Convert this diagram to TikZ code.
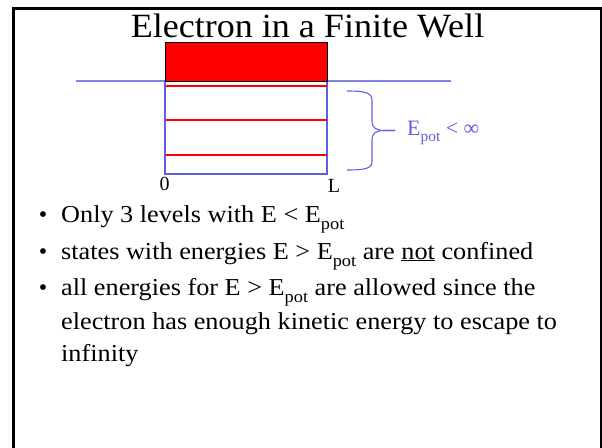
\documentclass[tikz,border=0pt]{standalone}
\usepackage{fontspec}
\setmainfont{Liberation Serif}
\newfontfamily\wideserif[FakeStretch=1.08]{Liberation Serif}
\newfontfamily\titleserif[FakeStretch=1.06]{Liberation Serif}
\definecolor{wellblue}{RGB}{95,95,225}
\definecolor{lineblue}{RGB}{130,130,235}
\newcommand\subpot{\raisebox{-0.3em}{\scalebox{0.7}{pot}}}
\tikzset{
  frameline/.style={draw=black, line cap=rect},
  wellline/.style={draw=wellblue, line width=1.1pt},
  level/.style={draw=red, line width=2pt},
  bodytext/.style={anchor=base west, inner sep=0pt, font=\wideserif\fontsize{24.3}{28}\selectfont},
  bulletmark/.style={anchor=base, inner sep=0pt, font=\fontsize{24}{28}\selectfont},
  axislabel/.style={anchor=base, inner sep=0pt, font=\fontsize{20}{24}\selectfont},
}
\begin{document}
\begin{tikzpicture}[x=1pt,y=-1pt]
\useasboundingbox (0,0) rectangle (602,447);
% slide frame
\draw[frameline, line width=3pt] (13.5,447) -- (13.5,8.5) -- (600.5,8.5);
\draw[frameline, line width=1.5pt] (600.8,8.5) -- (600.8,447);
% title
\node[anchor=base, inner sep=0pt, font=\titleserif\fontsize{34}{40}\selectfont] (title) at (307.5,37) {Electron in a Finite Well};
% potential line
\coordinate (lineL) at (76,81);
\coordinate (lineR) at (451,81);
\draw[draw=lineblue, line width=1.2pt] (lineL) -- (lineR);
% well
\draw[wellline] (165,81) rectangle (327,174);
% continuum box
\draw[fill=red, draw=black, line width=1pt] (165,42) rectangle (327,81);
% levels
\foreach \yy in {86,120,155}{
  \draw[level] (165.5,\yy) -- (326.5,\yy);
}
% axis labels
\node[axislabel] (zero) at (164.7,190) {0};
\node[axislabel] (ell) at (334,192.3) {L};
% brace
\draw[wellline] (347,91) .. controls (367,91) and (372,93) .. (372,101) -- (372,121)
  .. controls (372,128) and (376,130.5) .. (385,130.5) -- (395,130.5);
\draw[wellline] (395,130.5) -- (385,130.5)
  .. controls (376,130.5) and (372,133) .. (372,140) -- (372,161)
  .. controls (372,168) and (367,170) .. (347,170);
\node[anchor=base west, inner sep=0pt, text=wellblue, font=\fontsize{22}{26}\selectfont] (epot) at (407,135) {E\subpot{} < ∞};
% bullets
\node[bulletmark] (b1) at (43,222) {•};
\node[bodytext] (t1) at (61,222) {Only 3 levels with E < E\subpot};
\node[bulletmark] (b2) at (43,259) {•};
\node[bodytext] (t2) at (61,259) {states with energies E > E\subpot{} are \underline{not} confined};
\node[bulletmark] (b3) at (43,295) {•};
\node[bodytext] (t3) at (61,295) {all energies for E > E\subpot{} are allowed since the};
\node[bodytext] (t4) at (61,329) {electron has enough kinetic energy to escape to};
\node[bodytext] (t5) at (61,361) {infinity};
\end{tikzpicture}
\end{document}
